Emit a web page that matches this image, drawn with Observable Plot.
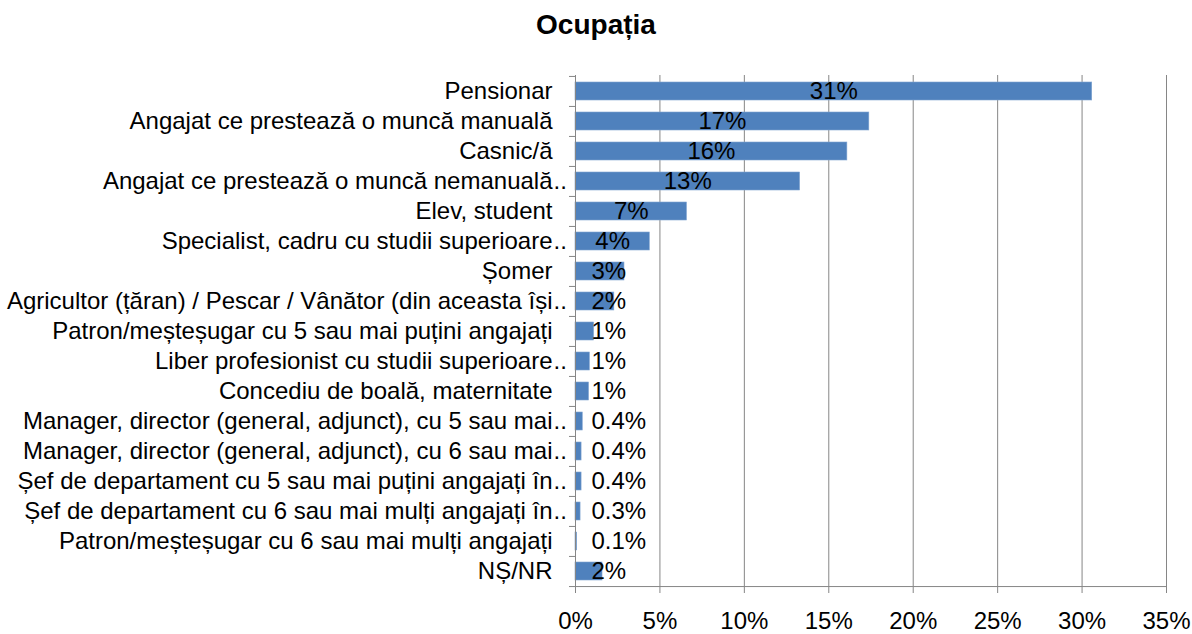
<!DOCTYPE html>
<html><head><meta charset="utf-8">
<script src="https://cdn.jsdelivr.net/npm/d3@7"></script>
<script src="https://cdn.jsdelivr.net/npm/@observablehq/plot@0.6"></script>
<style>
body{margin:0;background:#fff;font-family:"Liberation Sans",Arial,sans-serif;}
#title{width:1192px;height:50px;line-height:50px;text-align:center;font-weight:bold;font-size:28px;color:#000;}
#chart svg{display:block;}
</style></head><body>
<div id="title">Ocupația</div>
<div id="chart"></div>
<script>
const categories = [
  "Pensionar",
  "Angajat ce prestează o muncă manuală",
  "Casnic/ă",
  "Angajat ce prestează o muncă nemanuală",
  "Elev, student",
  "Specialist, cadru cu studii superioare",
  "Șomer",
  "Agricultor (țăran) / Pescar / Vânător (din aceasta își",
  "Patron/meșteșugar cu 5 sau mai puțini angajați",
  "Liber profesionist cu studii superioare",
  "Concediu de boală, maternitate",
  "Manager, director (general, adjunct), cu 5 sau mai",
  "Manager, director (general, adjunct), cu 6 sau mai",
  "Șef de departament cu 5 sau mai puțini angajați în",
  "Șef de departament cu 6 sau mai mulți angajați în",
  "Patron/meșteșugar cu 6 sau mai mulți angajați",
  "NȘ/NR"
];
const truncated = [false,false,false,true,false,true,false,true,false,true,false,true,true,true,true,false,false];
const values = [30.6,17.4,16.1,13.3,6.6,4.4,2.9,2.3,1.1,0.85,0.8,0.43,0.36,0.36,0.3,0.1,1.6];
const valueLabels = ["31%","17%","16%","13%","7%","4%","3%","2%","1%","1%","1%","0.4%","0.4%","0.4%","0.3%","0.1%","2%"];
const xTicks = [0,5,10,15,20,25,30,35];

const data = categories.map((c,i)=>({category:c, value:values[i], label:valueLabels[i], truncated:truncated[i]}));
const H = 584, mT = 25, mB = 47;
const half = (H - mT - mB) / categories.length / 2;
const axisColor = "#868686";
const fs = 24;
const last = categories[categories.length-1];

const chart = Plot.plot({
  width:1192, height:H, marginLeft:575, marginRight:26, marginTop:mT, marginBottom:mB,
  style:{fontFamily:'"Liberation Sans", Arial, sans-serif', fontSize:fs+"px", color:"#000", background:"#fff", overflow:"visible"},
  x:{domain:[xTicks[0], xTicks[xTicks.length-1]], label:null},
  y:{domain:categories, padding:0, label:null},
  marks:[
    Plot.gridX(xTicks,{stroke:axisColor, strokeOpacity:1}),
    Plot.barX(data,{x:"value", y:"category", fill:"#4F81BD", stroke:"#7FA3D0", strokeWidth:0.6, insetTop:6, insetBottom:6}),
    Plot.ruleX([0],{stroke:axisColor}),
    Plot.ruleY([last],{y:d=>d, x1:()=>xTicks[0], x2:()=>xTicks[xTicks.length-1], dy:half, stroke:axisColor}),
    Plot.axisX(xTicks,{tickSize:6, tickPadding:18, tickFormat:d=>d+"%", stroke:axisColor, fill:"#000", fontSize:fs, label:null}),
    Plot.axisY({tickSize:6, tickFormat:()=>"", dy:-half, stroke:axisColor, label:null}),
    Plot.axisY([last],{tickSize:6, tickFormat:()=>"", dy:half, stroke:axisColor, label:null}),
    Plot.axisY({tickSize:0, tickPadding:23, fontSize:fs, label:null}),
    Plot.text(data.filter(d=>d.truncated),{x:()=>0, y:"category", text:()=>"..", textAnchor:"start", dx:-22, fontSize:fs}),
    Plot.text(data.filter(d=>d.value>=4),{x:d=>d.value/2, y:"category", text:"label", fontSize:fs}),
    Plot.text(data.filter(d=>d.value<4),{x:()=>0, y:"category", text:"label", textAnchor:"start", dx:16, fontSize:fs})
  ]
});
document.getElementById("chart").appendChild(chart);
</script>
</body></html>
